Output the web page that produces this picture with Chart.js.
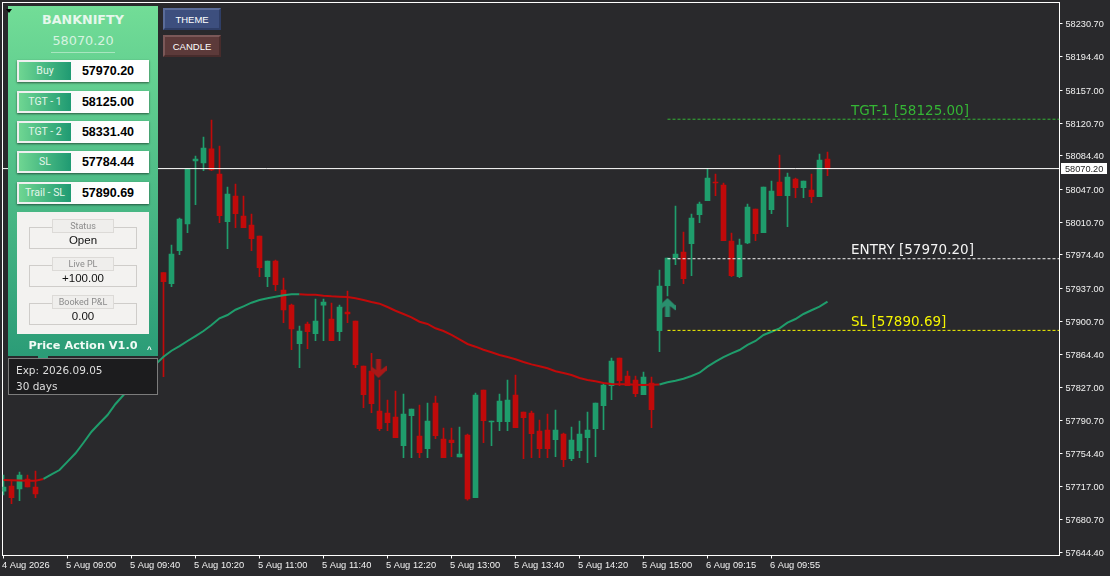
<!DOCTYPE html>
<html>
<head>
<meta charset="utf-8">
<title>BANKNIFTY</title>
<script src="https://cdn.jsdelivr.net/npm/chart.js@4"></script>
<style>
  html, body { margin: 0; padding: 0; background: #29292c; overflow: hidden; }
  #wrap { position: relative; width: 1110px; height: 576px; font-family: "Liberation Sans", sans-serif; }
  canvas { display: block; }
  #wrap div { position: absolute; box-sizing: border-box; }
  #panel { left: 8px; top: 6px; width: 150px; height: 350px; background: linear-gradient(#72dd97, #2b9c77); }
  .title { left: 0; width: 150px; text-align: center; color: #e6f7ec; }
  .row { left: 9px; width: 132px; height: 22px; background: linear-gradient(90deg, #eeeeee, #ffffff 60%); box-shadow: 0 1px 2px rgba(0,0,0,.55); }
  .tag { left: 2px; top: 2px; width: 52px; height: 18px; line-height: 17px; text-align: center; color: #e4f5ea; font: 10.5px/17px Roboto, sans-serif;
         background: linear-gradient(90deg, #6fd692, #1f9a72); }
  .val { left: 53px; top: 0; width: 76px; height: 22px; text-align: center; font: bold 12.5px/22px "Liberation Sans", sans-serif; color: #000; }
  #stats { left: 9px; top: 206px; width: 132px; height: 122px; background: #f3f2f0; }
  .box { left: 12px; width: 108px; height: 22px; border: 1px solid #cfcdca; text-align: center; font-size: 11.5px; line-height: 24px; color: #111; }
  .cap { left: 35px; width: 62px; height: 14px; background: #efeeec; border: 1px solid #dcdad7; text-align: center; font: 9px/12px Roboto, sans-serif; color: #8b8b8b; }
  #exp { left: 8px; top: 358px; width: 150px; height: 37px; background: #1c1c1e; border: 1px solid #7c7c7c; color: #dedede; font: 10.5px/16px "DejaVu Sans", sans-serif; padding: 3px 7px; white-space: pre; }
  .btn { left: 163px; width: 58px; height: 22px; text-align: center; color: #fff; font: 9.5px/19px "Liberation Sans", sans-serif; }
</style>
</head>
<body>
<div id="wrap">
  <canvas id="grafico" width="1110" height="576"></canvas>

  <div id="panel">
    <div class="title" style="top:6px;font:bold 12.7px/16px 'DejaVu Sans',sans-serif">BANKNIFTY</div>
    <div class="title" style="top:26px;color:#d6f3e0;font:12.8px/17px 'DejaVu Sans',sans-serif">58070.20</div>
    <div style="left:43px;top:46px;width:64px;height:1px;background:#a8e6bf"></div>

    <div class="row" style="top:54px"><div class="tag">Buy</div><div class="val">57970.20</div></div>
    <div class="row" style="top:85px"><div class="tag">TGT - 1</div><div class="val">58125.00</div></div>
    <div class="row" style="top:115px"><div class="tag">TGT - 2</div><div class="val">58331.40</div></div>
    <div class="row" style="top:145px"><div class="tag">SL</div><div class="val">57784.44</div></div>
    <div class="row" style="top:176px"><div class="tag">Trail - SL</div><div class="val">57890.69</div></div>

    <div id="stats">
      <div class="box" style="top:15px">Open</div>
      <div class="cap" style="top:7px">Status</div>
      <div class="box" style="top:53px">+100.00</div>
      <div class="cap" style="top:45px">Live PL</div>
      <div class="box" style="top:91px">0.00</div>
      <div class="cap" style="top:83px">Booked P&amp;L</div>
    </div>

    <div class="title" style="top:332px;color:#f2fbf5;font:bold 11.3px/16px 'DejaVu Sans',sans-serif">Price Action V1.0</div>
    <div style="left:139px;top:339px;color:#fff;font:bold 8px/10px 'Liberation Sans',sans-serif">^</div>
  </div>
  <div style="left:38px;top:356px;width:10px;height:2px;background:#2b9c77"></div>
  <div id="exp">Exp: 2026.09.05
30 days</div>

  <div class="btn" style="top:8px;background:#3d4f7e;border:2px solid;border-color:#5a6c99 #2f3e66 #2f3e66 #5a6c99">THEME</div>
  <div class="btn" style="top:35px;background:#5c3a3a;border:2px solid;border-color:#7a5858 #482c2c #482c2c #7a5858">CANDLE</div>

  <div style="left:6px;top:9px;width:0;height:0;border-left:3.5px solid transparent;border-right:3.5px solid transparent;border-top:4px solid #000"></div>
</div>

<script>
const n = null;

// OHLC, uma vela a cada 5 min (as velas 5 a 19 ficam atras do painel)
const opens = [57712.4,57718.0,57714.7,57725.8,57716.9,n,n,n,n,n,n,n,n,n,n,n,n,n,n,n,
  57954.7,57942.5,57979.1,58008.7,58078.6,58076.4,58092.0,58064.2,58011.3,58039.8,
  58017.6,58007.6,57995.4,57950.2,57967.7,57935.5,57918.8,57875.9,57897.8,57887.0,
  57918.8,57903.3,57889.2,57911.1,57901.1,57851.1,57845.6,57801.2,57799.0,57794.6,
  57762.7,57796.0,57773.5,57759.4,57810.1,57770.1,57769.0,57750.2,57774.6,57705.0,
  57824.5,57789.0,57789.3,57789.3,57819.0,57800.1,57799.0,57779.0,57780.1,57769.4,
  57775.7,57748.3,57757.2,57771.6,57781.6,57807.1,57829.3,57860.0,57840.1,57835.6,
  57819.3,57832.3,57890.3,57940.3,57971.0,57977.7,57986.9,58019.0,58034.6,58055.3,
  58052.0,57989.9,57950.2,57987.6,58025.4,57999.1,58024.6,58055.3,58040.1,58058.7,
  58049.0,58046.5,58039.0,58080.9];
const highs = [57730.2,57724.6,57733.5,57730.2,57734.6,n,n,n,n,n,n,n,n,n,n,n,n,n,n,n,
  57954.7,57985.4,58015.4,58070.1,58084.2,58105.3,58124.1,58095.3,58049.8,58053.1,
  58039.8,58019.8,57995.4,57967.7,57968.8,57948.8,57919.9,57895.5,57900.0,57925.5,
  57925.5,57921.1,57918.8,57934.4,57901.1,57851.1,57865.2,57835.6,57813.4,57823.4,
  57820.1,57803.4,57807.9,57810.1,57817.9,57782.4,57782.4,57783.5,57775.7,57821.2,
  57824.5,57790.1,57820.1,57835.6,57841.2,57800.1,57801.2,57791.2,57797.9,57802.3,
  57776.8,57783.5,57790.1,57800.1,57810.1,57832.3,57860.0,57860.0,57845.6,57840.1,
  57844.5,57838.9,57957.7,57971.0,58028.7,57999.8,58019.8,58033.1,58070.5,58064.2,
  58054.2,57998.7,57992.1,58030.9,58025.4,58049.8,58056.4,58085.3,58065.3,58059.8,
  58056.4,58064.2,58086.4,58088.6];
const lows = [57708.0,57698.3,57701.7,57716.9,57705.0,n,n,n,n,n,n,n,n,n,n,n,n,n,n,n,
  57839.3,57939.2,57974.7,57999.1,58030.1,58067.9,58067.9,58010.2,57981.3,58004.6,
  58004.6,57979.1,57950.2,57939.2,57934.7,57899.2,57869.2,57849.3,57870.4,57879.2,
  57879.2,57879.2,57879.2,57899.2,57849.3,57804.9,57799.3,57779.4,57779.4,57771.6,
  57749.4,57749.4,57749.4,57749.4,57770.5,57749.4,57750.5,57750.2,57702.4,57705.0,
  57766.0,57762.7,57779.4,57779.4,57782.7,57748.3,57749.4,57749.4,57749.4,57750.5,
  57739.4,57746.1,57749.4,57743.9,57750.5,57780.5,57813.8,57829.3,57829.3,57817.1,
  57819.3,57782.7,57867.0,57928.8,57963.6,57942.5,57951.4,58010.2,58034.6,58040.1,
  57990.2,57950.2,57949.1,57986.9,57990.2,57999.1,58020.2,58040.1,58005.7,58037.9,
  58037.9,58032.4,58039.0,58062.3];
const closes = [57716.9,57705.0,57730.2,57716.9,57709.1,n,n,n,n,n,n,n,n,n,n,n,n,n,n,n,
  57944.7,57975.4,58014.3,58069.8,58080.9,58093.1,58068.7,58017.9,58042.0,58020.2,
  58004.6,57992.4,57960.2,57967.7,57941.4,57913.3,57892.2,57890.0,57889.2,57901.1,
  57922.2,57879.2,57916.6,57908.9,57852.6,57819.3,57809.3,57781.6,57788.2,57771.6,
  57797.9,57803.4,57754.9,57790.1,57773.8,57749.4,57766.0,57753.5,57703.6,57819.0,
  57790.5,57790.1,57812.3,57813.4,57782.7,57793.8,57776.0,57759.4,57759.4,57780.1,
  57747.2,57769.0,57775.7,57780.1,57810.1,57830.1,57856.7,57834.8,57829.3,57820.4,
  57838.9,57802.7,57939.9,57971.0,57975.4,57948.0,58015.4,58030.9,58059.8,58054.2,
  57990.2,57951.4,57985.4,58027.6,57998.0,58049.8,58045.3,58040.1,58060.9,58049.0,
  58056.4,58039.0,58079.7,58070.1];

// media movel (trecho 16-19 atras do painel)
const mediaMovel = [57724.6,57724.4,57724.1,57723.9,57723.9,57725.8,57731.0,57735.7,57745.0,57754.3,
  57766.0,57778.2,57787.6,57796.8,57809.0,57819.0,n,n,n,n,
  57861.5,57868.1,57873.3,57878.9,57884.4,57890.0,57896.6,57904.1,57907.7,57913.6,
  57917.4,57921.4,57924.4,57926.3,57928.1,57929.6,57930.7,57930.7,57930.3,57930.3,
  57929.2,57928.5,57928.1,57927.7,57926.3,57924.4,57922.2,57920.3,57916.6,57912.5,
  57908.9,57905.2,57900.3,57897.8,57893.0,57890.0,57885.6,57880.6,57875.6,57872.6,
  57869.2,57866.4,57863.4,57861.1,57858.6,57855.6,57853.0,57850.8,57848.6,57845.3,
  57843.4,57841.2,57837.8,57835.6,57834.2,57832.3,57831.2,57830.8,57830.8,57830.4,
  57830.1,57830.4,57830.6,57833.1,57834.8,57837.1,57840.1,57843.7,57850.4,57856.0,
  57861.1,57865.2,57868.9,57874.5,57878.9,57885.6,57889.2,57893.0,57899.2,57903.3,
  57908.9,57913.0,57917.0,57922.5];

const precoAtual = 58070.20;
const nomesNiveis = ['TGT-1', 'ENTRY', 'SL'];
const precosNiveis = [58125.00, 57970.20, 57890.69];
const coresNiveis = ['#35b535', '#f4f4f4', '#f5f500'];

const rotulosX = ['4 Aug 2026', '5 Aug 09:00', '5 Aug 09:40', '5 Aug 10:20', '5 Aug 11:00', '5 Aug 11:40', '5 Aug 12:20',
  '5 Aug 13:00', '5 Aug 13:40', '5 Aug 14:20', '5 Aug 15:00', '6 Aug 09:15', '6 Aug 09:55'];
const ticksY = [58230.70, 58194.40, 58157.00, 58120.70, 58084.40, 58047.00, 58010.70, 57974.40, 57937.00,
  57900.70, 57864.40, 57827.00, 57790.70, 57754.40, 57717.00, 57680.70, 57644.40];

// setas de sinal: [indice da vela, preco]
const setaCompra = [83, 57916.1];
const setaVenda = [46.875, 57848.4];

const verde = '#1f9d6c';
const vermelho = '#c10a0a';
const indices = opens.map((v, i) => i).filter(i => opens[i] !== null);

function criarSeta(cor, paraCima) {
    const c = document.createElement('canvas');
    c.width = 16;
    c.height = 19;
    const ctx = c.getContext('2d');
    if (!paraCima) { ctx.translate(0, 19); ctx.scale(1, -1); }
    ctx.fillStyle = cor;
    ctx.beginPath();
    [[8,0],[16,7.5],[16,12.5],[10.5,8],[10.5,19],[5.5,19],[5.5,8],[0,12.5],[0,7.5]].forEach(p => ctx.lineTo(p[0], p[1]));
    ctx.closePath();
    ctx.fill();
    return c;
}

const extras = {
    id: 'extras',
    beforeDatasetsDraw(chart) {
        const a = chart.chartArea, ctx = chart.ctx;
        ctx.save();
        ctx.strokeStyle = '#ffffff';
        ctx.lineWidth = 1;
        ctx.strokeRect(a.left, a.top, a.right - a.left, a.bottom - a.top);
        ctx.restore();
    },
    afterDraw(chart) {
        const ctx = chart.ctx, x = chart.scales.x, y = chart.scales.y;
        ctx.save();
        ctx.textBaseline = 'middle';
        ctx.font = '13.5px "DejaVu Sans"';
        nomesNiveis.forEach((nome, k) => {
            ctx.fillStyle = coresNiveis[k];
            ctx.fillText(nome + ' [' + precosNiveis[k].toFixed(2) + ']', x.getPixelForValue(105.94), y.getPixelForValue(precosNiveis[k]) - 8);
        });
        // etiqueta do preco atual
        const py = y.getPixelForValue(precoAtual);
        ctx.fillStyle = '#ffffff';
        ctx.fillRect(1061, Math.round(py) - 6, 46, 11);
        ctx.fillStyle = '#1e1e1e';
        ctx.font = '9.2px "Liberation Sans"';
        ctx.fillText(precoAtual.toFixed(2), 1065, Math.round(py));
        ctx.restore();
    }
};

new Chart(document.getElementById('grafico'), {
    data: {
        datasets: [
            // pavios
            { type: 'bar', grouped: false, barThickness: 1, order: 6,
              data: indices.map(i => ({ x: i, y: [lows[i], highs[i]] })),
              backgroundColor: indices.map(i => closes[i] >= opens[i] ? verde : vermelho) },
            // corpos
            { type: 'bar', grouped: false, barThickness: 5, order: 5,
              data: indices.map(i => ({ x: i, y: [opens[i], closes[i]] })),
              backgroundColor: indices.map(i => closes[i] >= opens[i] ? verde : vermelho) },
            // media movel, muda de cor conforme a tendencia
            { type: 'line', order: 4, spanGaps: true, pointRadius: 0, borderWidth: 2, borderColor: verde,
              data: mediaMovel.map((v, i) => ({ x: i, y: v })),
              segment: { borderColor: c => (c.p0DataIndex < 5 || (c.p0DataIndex >= 37 && c.p0DataIndex < 82)) ? vermelho : verde } },
            // niveis
            ...precosNiveis.map((p, k) => ({
                type: 'line', order: 3, pointRadius: 0, borderWidth: 1, borderColor: coresNiveis[k], borderDash: [3, 2],
                data: [{ x: 83, y: p }, { x: 132, y: p }]
            })),
            // preco atual
            { type: 'line', order: 2, pointRadius: 0, borderWidth: 1, borderColor: '#ffffff',
              data: [{ x: -0.125, y: precoAtual }, { x: 132, y: precoAtual }] },
            // setas
            { type: 'scatter', order: 1, pointStyle: criarSeta('#2a8f6e', true),
              data: [{ x: setaCompra[0], y: setaCompra[1] }] },
            { type: 'scatter', order: 1, pointStyle: criarSeta('#a81818', false),
              data: [{ x: setaVenda[0], y: setaVenda[1] }] }
        ]
    },
    plugins: [extras],
    options: {
        responsive: false,
        animation: false,
        events: [],
        layout: { autoPadding: false, padding: { left: 2.5, top: 2.5, right: 0, bottom: 0 } },
        plugins: { legend: { display: false }, tooltip: { enabled: false } },
        scales: {
            x: {
                type: 'linear', position: 'bottom', min: -0.125, max: 132, offset: false,
                afterFit: s => { s.height = 20.5; s.paddingLeft = 0; s.paddingRight = 0; },
                afterBuildTicks: s => { s.ticks = rotulosX.map((r, k) => ({ value: k * 8 })); },
                border: { color: '#ffffff' },
                grid: { offset: false, drawOnChartArea: false, tickColor: '#ffffff', tickLength: 3 },
                ticks: { color: '#f2f2f2', align: 'start', maxRotation: 0, autoSkip: false, padding: 1, labelOffset: -1.5,
                         font: { family: 'Liberation Sans', size: 9.3 },
                         callback: v => rotulosX[v / 8] }
            },
            y: {
                position: 'right', min: 57640.9, max: 58254.5,
                afterFit: s => { s.width = 50.5; s.paddingTop = 0; s.paddingBottom = 0; },
                afterBuildTicks: s => { s.ticks = ticksY.map(v => ({ value: v })); },
                border: { color: '#ffffff' },
                grid: { drawOnChartArea: false, tickColor: '#ffffff', tickLength: 3 },
                ticks: { color: '#f2f2f2', autoSkip: false, padding: 3, labelOffset: 1,
                         font: { family: 'Liberation Sans', size: 9.2 },
                         callback: v => v.toFixed(2) }
            }
        }
    }
});
</script>
</body>
</html>
